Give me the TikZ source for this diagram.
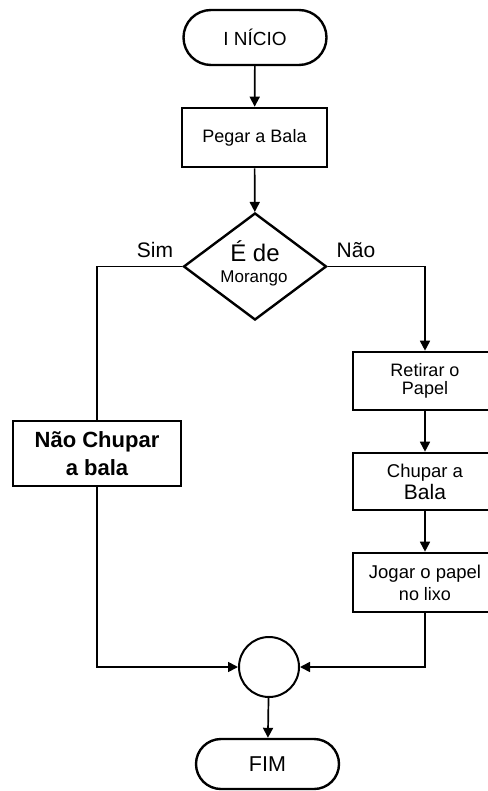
\documentclass[tikz,border=0pt]{standalone}
\usepackage{fontspec}
\setmainfont{Liberation Sans}
\usetikzlibrary{shapes.misc,shapes.geometric,arrows.meta}
\newcommand{\fs}[1]{\fontsize{#1}{#1}\selectfont}
\begin{document}
\begin{tikzpicture}[x=1pt,y=-1pt,
  term/.style={draw,line width=2.4pt,rounded rectangle,minimum width=143pt,minimum height=55pt,inner sep=0pt},
  procbox/.style={draw,line width=2.6pt,rectangle,inner sep=0pt,align=center},
  decis/.style={draw,line width=2.4pt,diamond,minimum width=143pt,minimum height=107pt,inner sep=0pt},
  junc/.style={draw,line width=2pt,circle,minimum size=60pt,inner sep=0pt},
  conn/.style={line width=1.7pt},
  arr/.style={conn,-{Triangle[length=10pt,width=10pt]}},
  lbl/.style={inner sep=0pt}]
\useasboundingbox (0,0) rectangle (487,791);
\node[term] (inicio) at (255,37.5) {\fs{19}I NÍCIO};
\node[procbox,minimum width=145pt,minimum height=59pt] (pegar) at (254.5,137.5) {\fs{18}Pegar a Bala};
\node[decis] (dec) at (255,266.5) {};
\node[lbl] (dec1) at (255,251) {\fs{24}É de};
\node[lbl] (dec2) at (254,278) {\fs{17}Morango};
\node[lbl] (sim) at (155,250) {\fs{21}Sim};
\node[lbl] (nao) at (356,250) {\fs{21}Não};
\node[procbox,minimum width=168pt,minimum height=65pt] (naochupar) at (97,453.5) {\fs{22}\bfseries Não Chupar\\[6pt]\fs{22}\bfseries a bala};
\node[procbox,minimum width=144pt,minimum height=58pt] (retirar) at (425,381) {\fs{18}Retirar o\\[4pt]\fs{18}Papel};
\node[procbox,minimum width=144pt,minimum height=57pt] (chupar) at (425,481.5) {\fs{18.5}Chupar a\\[2pt]\fs{21}Bala};
\node[procbox,minimum width=144pt,minimum height=59pt] (jogar) at (425,582.5) {\fs{18.5}Jogar o papel\\[4pt]\fs{18}no lixo};
\node[junc] (juncao) at (269,667) {};
\node[term,minimum height=50pt] (fim) at (267.5,764) {\fs{21.5}FIM};
\draw[arr] (inicio) -- (pegar);
\draw[arr] (pegar) -- (dec);
\draw[conn] (dec.west) -| (naochupar.north);
\draw[arr] (naochupar.south) |- (juncao.west);
\draw[arr] (dec.east) -| (retirar.north);
\draw[arr] (retirar) -- (chupar);
\draw[arr] (chupar) -- (jogar);
\draw[arr] (jogar.south) |- (juncao.east);
\draw[arr] (juncao) -- (fim);
\end{tikzpicture}
\end{document}
